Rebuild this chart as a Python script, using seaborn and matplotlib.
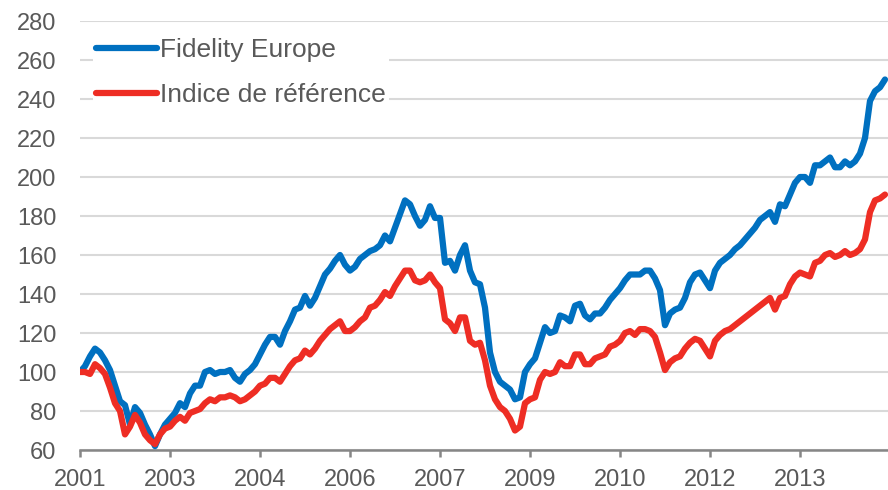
import numpy as np
import pandas as pd
import matplotlib
matplotlib.use("Agg")
import matplotlib.pyplot as plt
import seaborn as sns

# valeurs mensuelles (base 100)
fidelity = [100, 103, 108, 112, 110, 106, 101, 93, 85, 83,
            73, 82, 79, 73, 68, 62, 68, 73, 76, 79,
            84, 82, 89, 93, 93, 100, 101, 99, 100, 100,
            101, 97, 95, 99, 101, 104, 109, 114, 118, 118,
            114, 121, 126, 132, 133, 139, 134, 138, 144, 150,
            153, 157, 160, 155, 152, 154, 158, 160, 162, 163,
            165, 170, 167, 174, 181, 188, 186, 180, 175, 178,
            185, 179, 179, 156, 157, 152, 160, 165, 152, 146,
            145, 133, 110, 100, 95, 93, 91, 86, 87, 100,
            104, 107, 115, 123, 120, 121, 129, 128, 126, 134,
            135, 129, 127, 130, 130, 133, 137, 140, 143, 147,
            150, 150, 150, 152, 152, 148, 142, 124, 130, 132,
            133, 138, 146, 150, 151, 147, 143, 152, 156, 158,
            160, 163, 165, 168, 171, 174, 178, 180, 182, 177,
            186, 185, 191, 197, 200, 200, 197, 206, 206, 208,
            210, 205, 205, 208, 206, 208, 212, 220, 239, 244,
            246, 250]

indice = [100, 100, 99, 104, 102, 99, 92, 84, 80, 68,
          72, 78, 74, 68, 65, 63, 68, 71, 72, 75,
          77, 75, 79, 80, 81, 84, 86, 85, 87, 87,
          88, 87, 85, 86, 88, 90, 93, 94, 97, 97,
          95, 99, 103, 106, 107, 111, 109, 112, 116, 119,
          122, 124, 126, 121, 121, 123, 126, 128, 133, 134,
          137, 141, 139, 144, 148, 152, 152, 147, 146, 147,
          150, 146, 143, 127, 125, 121, 128, 128, 116, 114,
          115, 106, 93, 86, 82, 80, 76, 70, 72, 84,
          86, 87, 96, 100, 99, 100, 105, 103, 103, 109,
          109, 104, 104, 107, 108, 109, 113, 114, 116, 120,
          121, 119, 122, 122, 121, 118, 110, 101, 105, 107,
          108, 112, 115, 117, 116, 112, 108, 116, 119, 121,
          122, 124, 126, 128, 130, 132, 134, 136, 138, 132,
          138, 139, 145, 149, 151, 150, 149, 156, 157, 160,
          161, 159, 160, 162, 160, 161, 163, 168, 182, 188,
          189, 191]

year_labels = ["2001", "2003", "2004", "2006", "2007", "2009", "2010", "2012", "2013"]
series_names = ["Fidelity Europe", "Indice de référence"]

months = np.arange(len(fidelity))
df = pd.DataFrame({"mois": months, series_names[0]: fidelity, series_names[1]: indice})
df_long = df.melt(id_vars="mois", var_name="serie", value_name="valeur")

sns.set_style("white")
plt.rcParams['font.family'] = ['Liberation Sans', 'DejaVu Sans']
grey = "#595959"

fig = plt.figure(figsize=(8.88, 4.9), dpi=100)
ax = fig.add_axes([80 / 888, 40 / 490, 808 / 888, 429 / 490])

sns.lineplot(data=df_long, x="mois", y="valeur", hue="serie", hue_order=series_names,
             palette=["#0070C0", "#EE2D24"], linewidth=4.5, ax=ax, zorder=3)
for line in ax.lines:
    line.set_solid_joinstyle("round")
    line.set_solid_capstyle("round")

ax.set_xlim(0, 161.6)
ax.set_ylim(60, 280)
ax.set_yticks(range(60, 281, 20))
ax.set_xticks(np.arange(0, 18 * len(year_labels), 18))
ax.set_xticklabels(year_labels)
ax.set_xlabel("")
ax.set_ylabel("")

ax.yaxis.grid(True, color="#D9D9D9", linewidth=1.5, zorder=0)
ax.set_axisbelow(True)
for side in ["top", "right", "left"]:
    ax.spines[side].set_visible(False)
ax.spines["bottom"].set_color("#868686")
ax.spines["bottom"].set_linewidth(1.8)

ax.tick_params(axis="y", length=0, pad=17, labelsize=17, labelcolor=grey)
ax.tick_params(axis="x", length=5, width=1.8, color="#868686", direction="out",
               pad=9, labelsize=17, labelcolor=grey)
ax.xaxis.set_ticks_position("bottom")

leg = ax.legend(loc="upper left", bbox_to_anchor=(0.0, 0.997), fontsize=19,
                frameon=True, framealpha=1, facecolor="white", edgecolor="none",
                handlelength=2.3, handletextpad=0.15, labelspacing=0.8,
                borderpad=0.1, fancybox=False)
leg.set_zorder(5)
for t in leg.get_texts():
    t.set_color(grey)
for h in leg.get_lines():
    h.set_linewidth(4.5)
    h.set_solid_capstyle("round")

fig.savefig("out.png", dpi=100)
